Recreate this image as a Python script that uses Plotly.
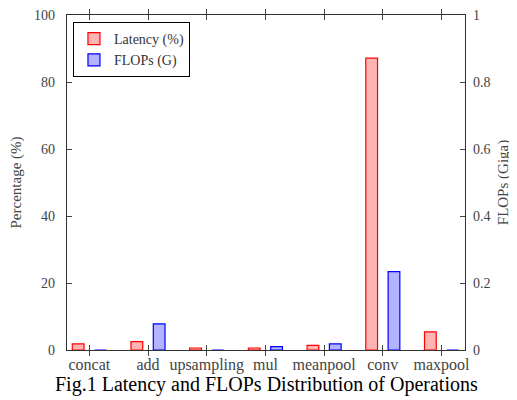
import plotly.graph_objects as go

categories = ["concat", "add", "upsampling", "mul", "meanpool", "conv", "maxpool"]
latency_pct = [1.8, 2.5, 0.6, 0.6, 1.4, 87.1, 5.4]
flops_g = [0.0, 0.078, 0.0, 0.01, 0.018, 0.234, 0.0]

FONT = "Liberation Serif"
xs = list(range(len(categories)))

fig = go.Figure()
fig.add_trace(go.Bar(
    x=xs, y=latency_pct, name="Latency (%)", width=0.2, offset=-0.29,
    marker=dict(color="rgb(255,179,179)", line=dict(color="red", width=1.2)),
    yaxis="y",
))
fig.add_trace(go.Bar(
    x=xs, y=flops_g, name="FLOPs (G)", width=0.2, offset=0.09,
    marker=dict(color="rgb(179,179,255)", line=dict(color="blue", width=1.2)),
    yaxis="y2",
))

fig.update_layout(
    width=509, height=392,
    margin=dict(l=59, r=52, t=7, b=50, autoexpand=False),
    paper_bgcolor="white", plot_bgcolor="white",
    font=dict(family=FONT, size=13, color="#333"),
    barmode="overlay",
    showlegend=True,
    legend=dict(x=0.015, y=0.979, xanchor="left", yanchor="top",
                bordercolor="black", borderwidth=1, bgcolor="white",
                font=dict(family=FONT, size=14, color="#333"),
                itemwidth=30, tracegroupgap=0),
    xaxis=dict(
        range=[-0.38, 6.4], tickmode="array", tickvals=xs, ticktext=categories,
        ticks="inside", ticklen=5, tickcolor="#444", mirror="allticks",
        showline=True, linecolor="#333", linewidth=1.2, showgrid=False,
        zeroline=False, automargin=False,
        tickfont=dict(family=FONT, size=16, color="#444"),
    ),
    yaxis=dict(
        range=[0, 100], tickvals=[0, 20, 40, 60, 80, 100],
        ticks="inside", ticklen=5, tickcolor="#444",
        showline=True, linecolor="#333", linewidth=1.2, showgrid=False,
        zeroline=False, ticklabelstandoff=8, automargin=False,
        ticklabeloverflow="allow",
        tickfont=dict(family=FONT, size=14, color="#444"),
        title=dict(text="Percentage (%)", font=dict(family=FONT, size=15, color="#444"), standoff=12),
    ),
    yaxis2=dict(
        range=[0, 1], tickvals=[0, 0.2, 0.4, 0.6, 0.8, 1], ticktext=["0", "0.2", "0.4", "0.6", "0.8", "1"],
        overlaying="y", side="right",
        ticks="inside", ticklen=5, tickcolor="#444",
        showline=True, linecolor="#333", linewidth=1.2, showgrid=False,
        zeroline=False, ticklabelstandoff=4, automargin=False,
        ticklabeloverflow="allow",
        tickfont=dict(family=FONT, size=14, color="#444"),
        title=dict(text="FLOPs (Giga)", font=dict(family=FONT, size=15, color="#444"), standoff=8),
    ),
    annotations=[dict(
        text="Fig.1 Latency and FLOPs Distribution of Operations",
        xref="paper", yref="paper", x=0.5, y=-0.104, xanchor="center", yanchor="middle",
        showarrow=False, font=dict(family=FONT, size=20, color="black"),
    )],
)

fig.write_html("out.html")
